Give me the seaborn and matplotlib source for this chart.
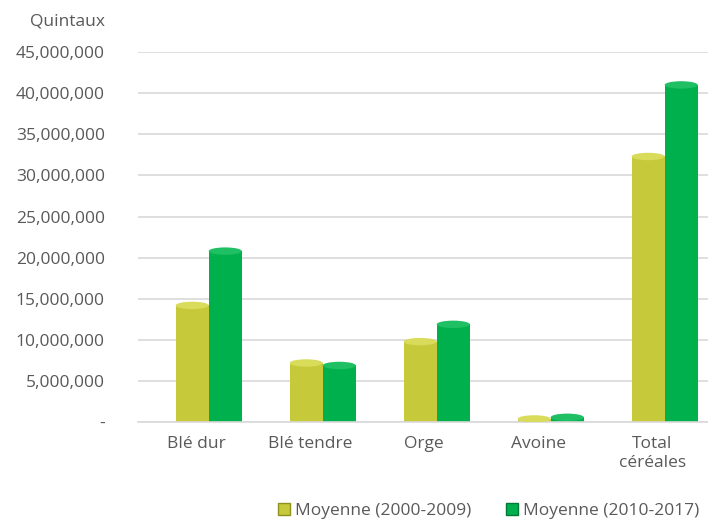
import matplotlib
matplotlib.use("Agg")
import matplotlib.pyplot as plt
import matplotlib.transforms as mtransforms
import seaborn as sns
import pandas as pd
from matplotlib.patches import Ellipse, Patch
from matplotlib.ticker import FuncFormatter

categories = ["Blé dur", "Blé tendre", "Orge", "Avoine", "Total\ncéréales"]
series_names = ["Moyenne (2000-2009)", "Moyenne (2010-2017)"]
moy_2000_2009 = [14200000, 7200000, 9800000, 400000, 32300000]
moy_2010_2017 = [20800000, 6900000, 11900000, 600000, 41000000]
y_ticks = [0, 5000000, 10000000, 15000000, 20000000, 25000000, 30000000, 35000000, 40000000, 45000000]

colors = ["#C6CA3A", "#00B04C"]
cap_colors = ["#D9DB5A", "#1FC063"]

df = pd.DataFrame({
    "cat": categories * 2,
    "serie": [series_names[0]] * 5 + [series_names[1]] * 5,
    "val": moy_2000_2009 + moy_2010_2017,
})

sns.set_theme(style="white")
plt.rcParams["font.family"] = ["Open Sans", "DejaVu Sans"]

fig = plt.figure(figsize=(7.08, 5.2), dpi=100)
ax = fig.add_axes([0.195, 0.188, 0.805, 0.712])

sns.barplot(data=df, x="cat", y="val", hue="serie", palette=colors,
            width=0.58, gap=0.0, saturation=1, ax=ax, legend=False,
            edgecolor="none")

ax.set_ylim(0, 45000000)
ax.set_xlim(-0.62, 4.38)
ax.set_yticks(y_ticks)
ax.yaxis.set_major_formatter(FuncFormatter(lambda v, p: "-" if v == 0 else f"{int(v):,}"))
ax.grid(axis="y", color="#D9D9D9", linewidth=1.2)
ax.set_axisbelow(True)
for s in ["top", "right", "left"]:
    ax.spines[s].set_visible(False)
ax.spines["bottom"].set_color("#D9D9D9")
ax.spines["bottom"].set_linewidth(1.2)
ax.tick_params(axis="y", labelsize=12.5, colors="#595959", pad=24, length=0)
ax.tick_params(axis="x", labelsize=12.5, colors="#595959", pad=10, length=0)
ax.set_xlabel("")
ax.set_ylabel("")

# shift category labels slightly left, like the perspective view of the original
offset = mtransforms.ScaledTranslation(-9 / 72, 0, fig.dpi_scale_trans)
for lbl in ax.get_xticklabels():
    lbl.set_transform(lbl.get_transform() + offset)

# cylinder-like caps on each bar, derived from the bar patches
for i, bar in enumerate(ax.patches[:10]):
    k = 0 if i < 5 else 1
    x0 = bar.get_x()
    w = bar.get_width()
    h = bar.get_height()
    ax.add_patch(Ellipse((x0 + w / 2, h), w, 900000, facecolor=cap_colors[k],
                         edgecolor="none", zorder=3))

fig.text(0.095, 0.958, "Quintaux", fontsize=12.5, color="#595959", ha="center", va="center")

handles = [Patch(facecolor=colors[0], edgecolor="#8E9020"),
           Patch(facecolor=colors[1], edgecolor="#007A35")]
fig.legend(handles, series_names, loc="center", bbox_to_anchor=(0.69, 0.018),
           ncol=2, frameon=False, fontsize=12.5, labelcolor="#595959",
           handlelength=0.7, handleheight=0.7, handletextpad=0.3, columnspacing=2.0)

fig.savefig("out.png", dpi=100)
